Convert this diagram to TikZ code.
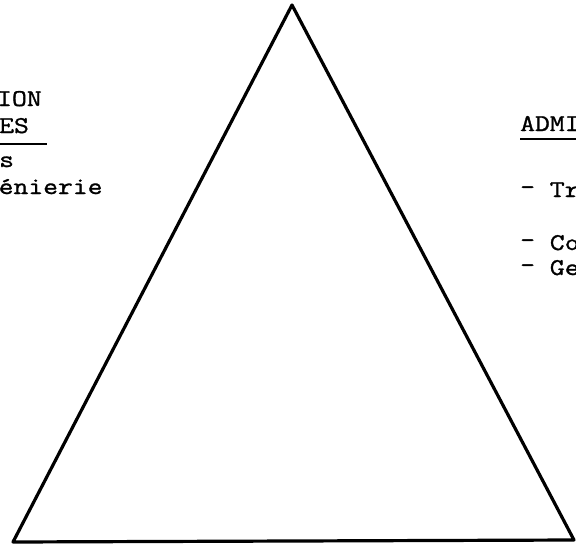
\documentclass[tikz,border=0pt]{standalone}
\usepackage{fontspec}
\usepackage{tikz}
\usetikzlibrary{positioning,calc}
\newfontfamily\typewriter{Latin Modern Mono}[FakeStretch=1.2,FakeBold=1.2]
\definecolor{inkcolor}{RGB}{0,0,0}
\tikzset{
typetext/.style={
  font=\typewriter\fontsize{24}{28}\selectfont,
  text=inkcolor,
  inner sep=0pt,
  anchor=base west
},
underrule/.style={
  draw=inkcolor,
  line width=1.8pt
},
triangleline/.style={
  draw=inkcolor,
  line width=3.2pt,
  line join=round
}
}
\newcommand{\hidash}{\raisebox{2.5pt}{-}}

\begin{document}
\begin{tikzpicture}[x=1pt, y=-1pt]
  \useasboundingbox (0,0) rectangle (576,549);
  \clip (0,0) rectangle (576,549);

  % --- triangle ---
  \coordinate (apex) at (292,5);
  \coordinate (baseL) at (13,542);
  \coordinate (baseR) at (574,540);
  \draw[triangleline] (apex) -- (baseR) -- (baseL) -- cycle;

  % --- left column ---
  \node[typetext] (lefta) at (-3,106) {ION};
  \node[typetext] (leftb) at (-1,133) {ES};
  \coordinate (leftrule) at (0,144);
  \draw[underrule] (leftrule) -- ++(47,0);
  \node[typetext] (leftc) at (-1,167) {s};
  \node[typetext] (leftd) at (-1.5,194) {énierie};

  % --- right column ---
  \node[typetext] (righta) at (520,131) {ADMI};
  \coordinate (rightrule) at (520,139);
  \draw[underrule] (rightrule) -- ++(56,0);
  \node[typetext] (rightb) at (520,197) {\hidash{} Tr};
  \node[typetext] (rightc) at (520,250) {\hidash{} Co};
  \node[typetext] (rightd) at (520,275) {\hidash{} Ge};
\end{tikzpicture}
\end{document}
